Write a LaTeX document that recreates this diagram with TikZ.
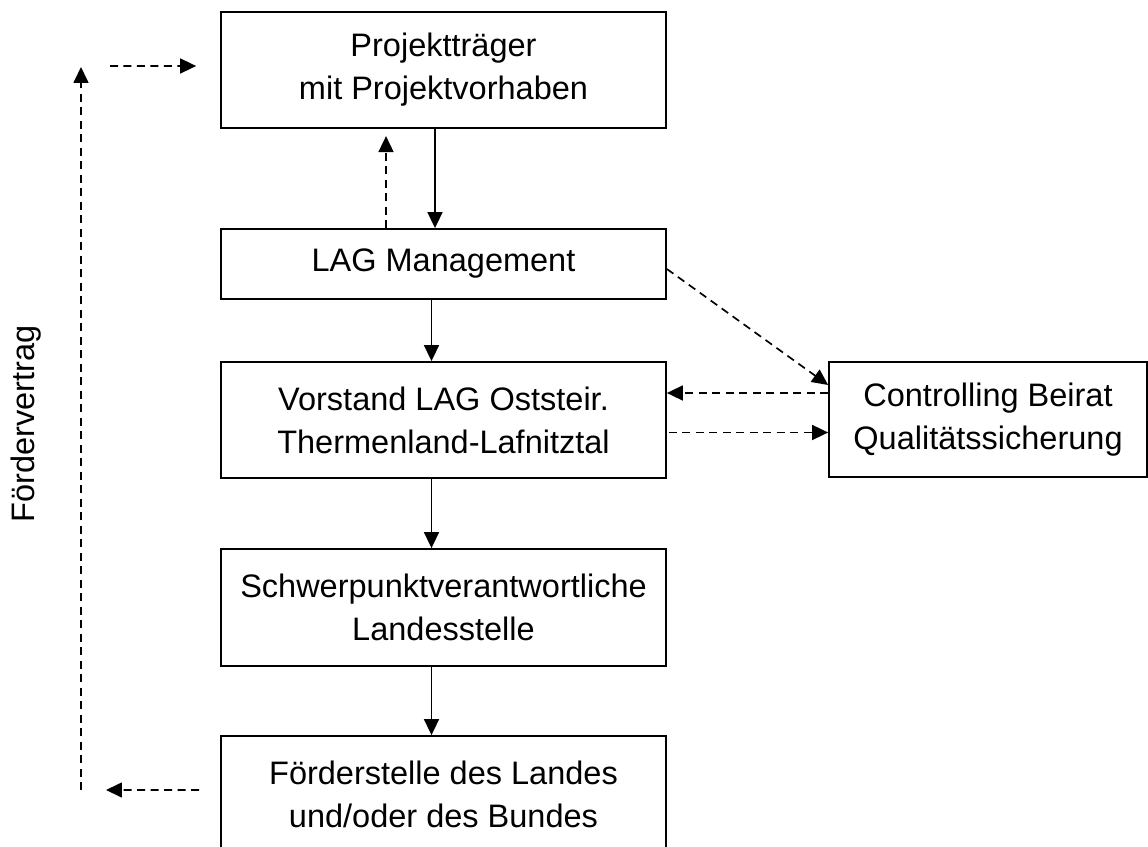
\documentclass[tikz,border=0pt]{standalone}
\usepackage{fontspec}
\setmainfont{Liberation Sans}
\usetikzlibrary{arrows.meta}

\begin{document}
\begin{tikzpicture}[x=0.02cm, y=-0.02cm,
                    every node/.style={font=\fontsize{18.5}{24.5}\selectfont, align=center},
                    box/.style={rectangle, draw, line width=1.05pt, minimum width=8.9cm, minimum height=2.32cm, inner sep=0pt},
                    pfeil/.style={line width=0.95pt, -{Triangle[length=0.32cm, width=0.3cm]}},
                    strich/.style={pfeil, dash pattern=on 0.16cm off 0.11cm}
                ]
                \useasboundingbox (0,0) rectangle (1148,847);
                \node[box] (traeger) at (443.5,70) {Projektträger \\ mit Projektvorhaben};
                \node[box, minimum height=1.4cm] (lag) at (443.5,264) {LAG Management};
                \node[box] (vorstand) at (443.5,420) {Vorstand LAG Oststeir. \\ Thermenland-Lafnitztal};
                \node[box, minimum width=6.36cm, minimum height=2.3cm] (beirat) at (988,419.5) {Controlling Beirat \\ Qualitätssicherung};
                \node[box, minimum height=2.34cm] (schwerpunkt) at (443.5,607.5) {Schwerpunktverantwortliche \\ Landesstelle};
                \node[box] (foerder) at (443.5,794) {Förderstelle des Landes \\ und/oder des Bundes};
                \node[rotate=90] (vertrag) at (26,424) {Fördervertrag};
                \coordinate (links-ziel) at (106,790);
                \coordinate (links-unten) at (81,790);
                \coordinate (links-oben) at (81,67);
                \coordinate (oben-start) at (110,66);
                \draw[pfeil] ([xshift=-0.17cm]traeger.south) -- ([xshift=-0.17cm]traeger.south |- lag.north);
                \draw[strich] ([xshift=-1.15cm]lag.north) -- ([xshift=-1.15cm,yshift=1.84cm]lag.north);
                \draw[pfeil] ([xshift=-0.24cm]lag.south) -- ([xshift=-0.24cm]lag.south |- vorstand.north);
                \draw[pfeil] ([xshift=-0.24cm]vorstand.south) -- ([xshift=-0.24cm]vorstand.south |- schwerpunkt.north);
                \draw[pfeil] ([xshift=-0.24cm]schwerpunkt.south) -- ([xshift=-0.24cm]schwerpunkt.south |- foerder.north);
                \draw[strich] ([yshift=-0.1cm]lag.east) -- ([yshift=0.69cm]beirat.west);
                \draw[strich] ([yshift=0.53cm]beirat.west) -- ([yshift=0.53cm]beirat.west -| vorstand.east);
                \draw[strich] ([xshift=0.04cm,yshift=-0.25cm]vorstand.east) -- ([yshift=-0.25cm]vorstand.east -| beirat.west);
                \draw[strich] ([xshift=-0.42cm,yshift=0.08cm]foerder.west) -- (links-ziel);
                \draw[strich] (links-unten) -- (links-oben);
                \draw[strich] (oben-start) -- ([xshift=-0.48cm,yshift=0.08cm]traeger.west);
\end{tikzpicture}
\end{document}
